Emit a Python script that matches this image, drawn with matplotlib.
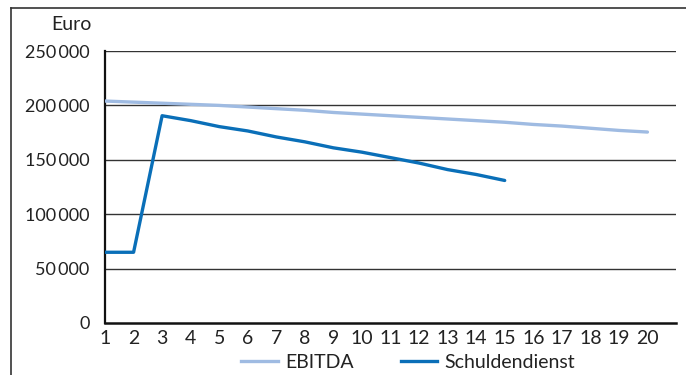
import matplotlib
matplotlib.use('Agg')
import matplotlib.pyplot as plt
from matplotlib.lines import Line2D

params = {'font.family': ['Lato', 'DejaVu Sans'],
          'font.size': 14,
          'xtick.labelsize': 14,
          'ytick.labelsize': 13,
          }
matplotlib.rcParams.update(params)

# data
years = list(range(1, 21))
ebitda = [204000, 203000, 202000, 201000, 200000, 198500, 197000, 195500, 193500, 192000,
          190500, 189000, 187500, 186000, 184500, 182500, 181000, 179000, 177000, 175500]
years_sd = list(range(1, 16))
schuldendienst = [65000, 65000, 190500, 186000, 180500, 176500, 171000, 166500, 161000, 157000,
                  152000, 147000, 141000, 136500, 131000]
yticks = [0, 50000, 100000, 150000, 200000, 250000]
ytick_labels = ['0', '50\u2009000', '100\u2009000', '150\u2009000', '200\u2009000', '250\u2009000']

c_ebitda = '#9fbbe2'
c_sd = '#0a6fb8'

fig = plt.figure(figsize=(6.86, 3.75), dpi=100)
ax = fig.add_axes([0.1531, 0.1387, 0.8323, 0.7253])

for y in yticks[1:]:
    ax.axhline(y, color='#333333', linewidth=1.0, zorder=1)

ax.plot(years, ebitda, color=c_ebitda, linewidth=2.4, solid_capstyle='round', zorder=3)
ax.plot(years_sd, schuldendienst, color=c_sd, linewidth=2.4, solid_capstyle='round', zorder=4)

ax.set_xlim(1, 21)
ax.set_ylim(0, 250000)
ax.set_xticks(years)
ax.set_xticklabels([str(x) for x in years])
ax.set_yticks(yticks)
ax.set_yticklabels(ytick_labels)
ax.tick_params(axis='both', length=0, colors='#222222')
ax.tick_params(axis='x', pad=5)
ax.tick_params(axis='y', pad=11)

for side in ['top', 'right']:
    ax.spines[side].set_visible(False)
ax.spines['left'].set_linewidth(1.6)
ax.spines['bottom'].set_linewidth(1.8)
ax.spines['left'].set_color('#111111')
ax.spines['bottom'].set_color('#111111')

fig.text(92 / 686, 1 - 24 / 375, 'Euro', ha='right', va='center', fontsize=14, color='#222222')

# outer frame (left and top edge)
fig.add_artist(Line2D([11 / 686, 11 / 686], [0, 1 - 8 / 375], transform=fig.transFigure,
                      color='#333333', linewidth=1.2))
fig.add_artist(Line2D([11 / 686, 1], [1 - 8 / 375, 1 - 8 / 375], transform=fig.transFigure,
                      color='#333333', linewidth=1.2))

handles = [Line2D([], [], color=c_ebitda, linewidth=2.4),
           Line2D([], [], color=c_sd, linewidth=2.4)]
fig.legend(handles, ['EBITDA', 'Schuldendienst'], loc='center', bbox_to_anchor=(0.595, 1 - 362 / 375),
           ncol=2, frameon=False, fontsize=14, handlelength=1.9, handletextpad=0.36,
           columnspacing=2.4, labelcolor='#222222')

plt.savefig('out.png', dpi=100)
